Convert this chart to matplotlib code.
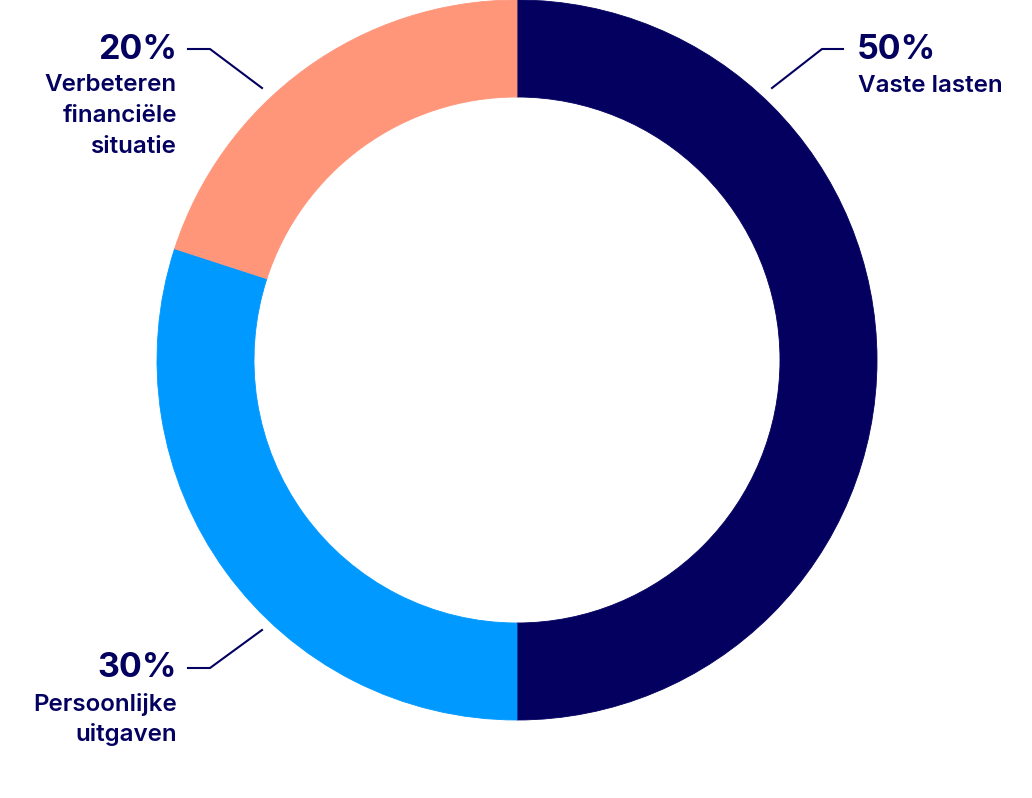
import matplotlib
matplotlib.use("Agg")
import matplotlib.pyplot as plt

labels = ["Vaste lasten", "Persoonlijke\nuitgaven", "Verbeteren\nfinanciële\nsituatie"]
values = [50, 30, 20]
pct_labels = ["50%", "30%", "20%"]
colors = ["#03005f", "#0099ff", "#ff967a"]
navy = "#03005f"

W, H = 1032, 798
fig = plt.figure(figsize=(W / 100, H / 100), dpi=100)
ax = fig.add_axes([0, 0, 1, 1])

cx, cy = 517, H - 360
wedges, _ = ax.pie(values, colors=colors, startangle=90, counterclock=False,
                   center=(cx, cy), radius=360,
                   wedgeprops=dict(width=97, linewidth=0.6))
for w in wedges:
    w.set_edgecolor(w.get_facecolor())
ax.set_xlim(0, W)
ax.set_ylim(0, H)
ax.set_aspect("equal")
ax.axis("off")

def y(p):
    return H - p

# leader lines (pixel positions of the original layout)
ax.plot([772, 822, 843], [y(88), y(49), y(49)], color=navy, lw=1.5)
ax.plot([262, 210, 188], [y(88), y(49), y(49)], color=navy, lw=1.5)
ax.plot([262, 210, 188], [y(630), y(668), y(668)], color=navy, lw=1.5)

pfont = dict(family="Inter", weight="bold", size=24.5, color=navy)
lfont = dict(family="Inter", weight="semibold", size=17.4, color=navy)

# 50% right
ax.text(857, y(50), pct_labels[0], ha="left", va="center", **pfont)
ax.text(858, y(86), labels[0], ha="left", va="center", **lfont)

# 20% upper left
ax.text(177, y(50), pct_labels[2], ha="right", va="center", **pfont)
for i, line in enumerate(labels[2].split("\n")):
    ax.text(177, y(85 + 31 * i), line, ha="right", va="center", **lfont)

# 30% lower left
ax.text(177, y(668), pct_labels[1], ha="right", va="center", **pfont)
for i, line in enumerate(labels[1].split("\n")):
    ax.text(177, y(704 + 31 * i), line, ha="right", va="center", **lfont)

fig.savefig("out.png", dpi=100)
